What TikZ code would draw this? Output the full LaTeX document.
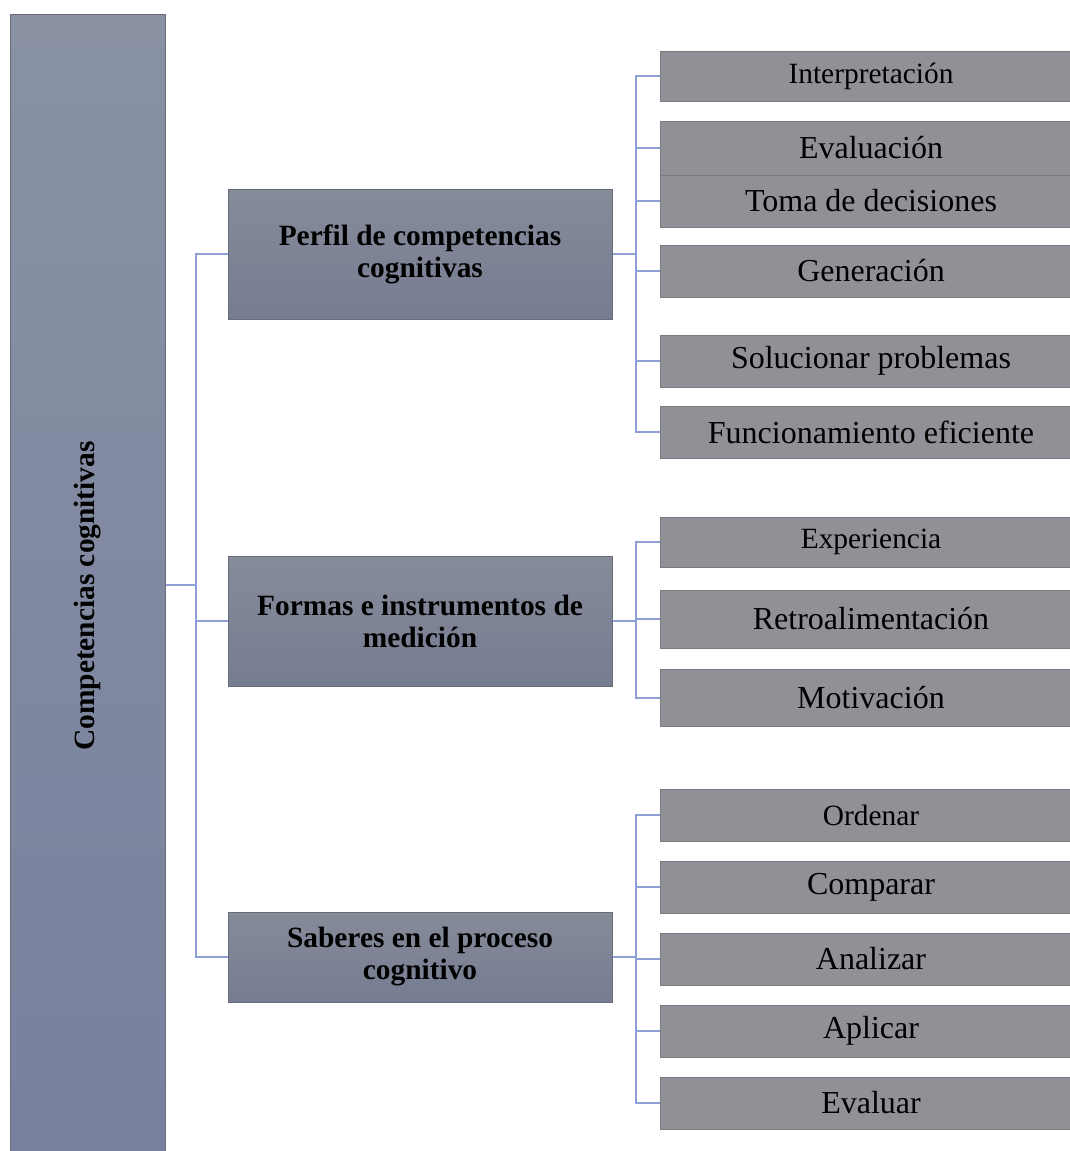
\documentclass[tikz,border=0pt]{standalone}
\usepackage{fontspec}
\setmainfont{Liberation Serif}

\definecolor{rootTop}{RGB}{137,145,163}
\definecolor{rootBot}{RGB}{119,129,158}
\definecolor{midTop}{RGB}{134,139,153}
\definecolor{midBot}{RGB}{118,125,146}
\definecolor{leafFill}{RGB}{143,145,150}
\definecolor{edgeGray}{RGB}{105,108,116}
\definecolor{linkBlue}{RGB}{143,160,214}

\tikzset{
  rootbox/.style={draw=edgeGray, line width=0.5pt, top color=rootTop, bottom color=rootBot,
    minimum width=77.5pt, minimum height=582pt, inner sep=0pt},
  midbox/.style={draw=edgeGray, line width=0.5pt, top color=midTop, bottom color=midBot,
    minimum width=192pt, align=center, inner sep=0pt,
    font=\fontsize{14.7}{16}\selectfont\bfseries},
  leafbox/.style={fill=leafFill, draw=leafFill!85!black, line width=0.3pt,
    minimum width=211pt, inner sep=0pt, font=\fontsize{16}{18}\selectfont},
  smalltext/.style={font=\fontsize{14.7}{17}\selectfont},
  link/.style={draw=linkBlue, line width=1pt}
}

\begin{document}
\begin{tikzpicture}[x=0.5pt, y=-0.5pt]
        \useasboundingbox (0,0) rectangle (1070,1151);
        % Root %
        \node [rootbox] (root) at (87.5,596) {};
        \node [rotate=90, font=\fontsize{14.7}{16}\selectfont\bfseries] (rootlabel) at (root.center) {Competencias cognitivas};
        % Middle %
        \node [midbox, minimum height=65pt] (perfil) at (420,254) {Perfil de competencias\\cognitivas};
        \node [midbox, minimum height=65pt] (formas) at (420,621) {Formas e instrumentos de\\medici\'on};
        \node [midbox, minimum height=45pt] (saberes) at (420,957) {Saberes en el proceso\\cognitivo};
        % Leaves of perfil %
        \node [leafbox, smalltext, minimum height=25pt] (interp) at (871,76) {Interpretaci\'on};
        \node [leafbox, minimum height=27pt] (evalua) at (871,148) {Evaluaci\'on};
        \node [leafbox, minimum height=26pt] (toma) at (871,201) {Toma de decisiones};
        \node [leafbox, minimum height=26pt] (gener) at (871,271) {Generaci\'on};
        \node [leafbox, minimum height=26pt] (soluc) at (871,361) {Solucionar problemas};
        \node [leafbox, minimum height=26pt] (funcio) at (871,432) {Funcionamiento eficiente};
        % Leaves of formas %
        \node [leafbox, smalltext, minimum height=25pt] (exper) at (871,542) {Experiencia};
        \node [leafbox, minimum height=29pt] (retro) at (871,619) {Retroalimentaci\'on};
        \node [leafbox, minimum height=28.5pt] (motiv) at (871,697.5) {Motivaci\'on};
        % Leaves of saberes %
        \node [leafbox, smalltext, minimum height=26pt] (orden) at (871,815) {Ordenar};
        \node [leafbox, minimum height=26pt] (compar) at (871,887) {Comparar};
        \node [leafbox, minimum height=26pt] (analiz) at (871,959) {Analizar};
        \node [leafbox, minimum height=26pt] (aplic) at (871,1031) {Aplicar};
        \node [leafbox, minimum height=26pt] (evalu) at (871,1103) {Evaluar};
        % Links %
        \coordinate (rj) at (196,585);
        \coordinate (pj) at (636,254);
        \coordinate (fj) at (formas.east -| pj);
        \coordinate (sj) at (saberes.east -| pj);
        \draw [link] (root.east |- rj) -- (rj);
        \foreach \m in {perfil, formas, saberes}
          \draw [link] (rj) |- (\m.west);
        \draw [link] (perfil.east) -- (pj);
        \foreach \c in {interp, evalua, toma, gener, soluc, funcio}
          \draw [link] (pj) |- (\c.west);
        \draw [link] (formas.east) -- (fj);
        \foreach \c in {exper, retro, motiv}
          \draw [link] (fj) |- (\c.west);
        \draw [link] (saberes.east) -- (sj);
        \foreach \c in {orden, compar, analiz, aplic, evalu}
          \draw [link] (sj) |- (\c.west);

      \end{tikzpicture}
\end{document}
